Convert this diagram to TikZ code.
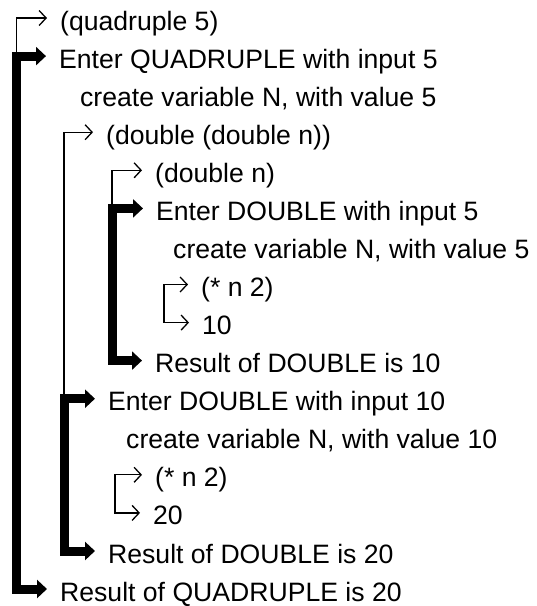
\documentclass[tikz,border=0pt]{standalone}
\usepackage{fontspec}
\setmainfont{Liberation Sans}
\usetikzlibrary{arrows.meta,calc}
\begin{document}
\begin{tikzpicture}[x=1pt,y=-1pt,
  lbl/.style={anchor=base west,inner sep=0pt,font=\fontsize{26.6}{30}\selectfont},
  callline/.style={line width=1.3pt,line join=miter},
  callarrow/.style={callline,-{Straight Barb[length=7pt,width=15pt]}},
  callpair/.style={callline,{Straight Barb[length=7pt,width=15pt]}-{Straight Barb[length=7pt,width=15pt]}},
  thickarrow/.style={line width=9pt,line join=miter,{Triangle[length=10pt,width=18pt]}-{Triangle[length=10pt,width=18pt]}}]
\useasboundingbox (0,0) rectangle (537,606);
% text lines (baseline = arrow level + 12)
\node[lbl] (t1)  at (60,30.0)  {(quadruple 5)};
\node[lbl] (t2)  at (59,68.1)  {Enter QUADRUPLE with input 5};
\node[lbl] (t3)  at (80,106.1) {create variable N, with value 5};
\node[lbl] (t4)  at (106,144.2) {(double (double n))};
\node[lbl] (t5)  at (155,182.3) {(double n)};
\node[lbl] (t6)  at (156,220.4) {Enter DOUBLE with input 5};
\node[lbl] (t7)  at (173,258.4) {create variable N, with value 5};
\node[lbl] (t8)  at (201,296.5) {(* n 2)};
\node[lbl] (t9)  at (202,334.6) {10};
\node[lbl] (t10) at (155,372.6) {Result of DOUBLE is 10};
\node[lbl] (t11) at (108,410.7) {Enter DOUBLE with input 10};
\node[lbl] (t12) at (126,448.8) {create variable N, with value 10};
\node[lbl] (t13) at (155,486.8) {(* n 2)};
\node[lbl] (t14) at (153,524.9) {20};
\node[lbl] (t15) at (108,563.0) {Result of DOUBLE is 20};
\node[lbl] (t16) at (60,601.0) {Result of QUADRUPLE is 20};
% arrow tips, just before each text
\foreach \i in {1,2,4,5,6,8,9,10,11,13,14,15,16}{
  \coordinate (a\i) at ($(t\i.base west)+(-13,-12)$);
}
% corners of the connectors
\coordinate (v1)  at (16.5,18.0);
\coordinate (v2)  at (16.5,56.1);
\coordinate (v16) at (16.5,589.0);
\coordinate (v4)  at (64,132.2);
\coordinate (v11) at (64,398.7);
\coordinate (v15) at (64,551.0);
\coordinate (v5)  at (112,170.3);
\coordinate (v6)  at (112,208.4);
\coordinate (v10) at (112,360.6);
\coordinate (v8)  at (164,284.5);
\coordinate (v9)  at (164,322.6);
\coordinate (v13) at (115,474.8);
\coordinate (v14) at (115,512.9);
% thin call connectors
\draw[callarrow] (v2) -- (v1) -- (a1);
\draw[callarrow] (v11) -- (v4) -- (a4);
\draw[callarrow] (v6) -- (v5) -- (a5);
\draw[callpair] (a8) -- (v8) -- (v9) -- (a9);
\draw[callpair] (a13) -- (v13) -- (v14) -- (a14);
% thick enter/result connectors
\draw[thickarrow] (a2) -- (v2) -- (v16) -- (a16);
\draw[thickarrow] (a6) -- (v6) -- (v10) -- (a10);
\draw[thickarrow] (a11) -- (v11) -- (v15) -- (a15);
\end{tikzpicture}
\end{document}
